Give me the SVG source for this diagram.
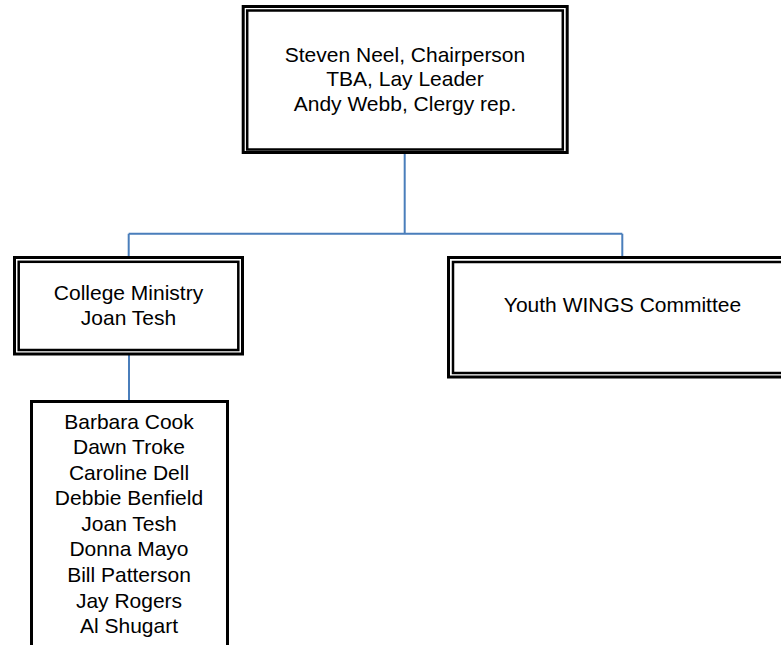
<svg xmlns="http://www.w3.org/2000/svg" width="781" height="645" viewBox="0 0 781 645">
<style>
.bg{fill:#ffffff}
.o{fill:#ffffff;stroke:#000000;stroke-width:3}
.i{fill:none;stroke:#000000;stroke-width:2.5}
.t{font-family:"Liberation Sans",Arial,sans-serif;font-size:21px;fill:#000000;text-anchor:middle}
.c{fill:none;stroke:#4a7ebb;stroke-width:2}
</style>
<rect class="bg" x="0" y="0" width="781" height="645"/>
<g id="connectors">
<path class="c" d="M404.7 152 V233.7 M128.7 233.7 H622.3 M128.7 233.7 V257 M622.3 233.7 V257"/>
<path class="c" d="M129 355 V401"/>
</g>
<g id="chair">
<rect class="o" x="243.2" y="6.5" width="324" height="146"/>
<rect class="i" x="247.2" y="10.5" width="315.6" height="139"/>
<text class="t" x="405" y="61.5">Steven Neel, Chairperson</text>
<text class="t" x="405" y="86">TBA, Lay Leader</text>
<text class="t" x="405" y="110.5">Andy Webb, Clergy rep.</text>
</g>
<g id="college">
<rect class="o" x="14.5" y="257.5" width="228" height="96.5"/>
<rect class="i" x="18.7" y="261.8" width="219.6" height="88.2"/>
<text class="t" x="128.5" y="300">College Ministry</text>
<text class="t" x="128.5" y="324.5">Joan Tesh</text>
</g>
<g id="youth">
<rect class="o" x="448.5" y="257.5" width="348" height="119.5"/>
<rect class="i" x="453" y="262" width="339" height="111"/>
<text class="t" x="622.5" y="312">Youth WINGS Committee</text>
</g>
<g id="members">
<rect class="o" x="31.5" y="401.5" width="196" height="260"/>
<text class="t" x="129" y="428.5">Barbara Cook</text>
<text class="t" x="129" y="454">Dawn Troke</text>
<text class="t" x="129" y="479.5">Caroline Dell</text>
<text class="t" x="129" y="505">Debbie Benfield</text>
<text class="t" x="129" y="530.8">Joan Tesh</text>
<text class="t" x="129" y="556.4">Donna Mayo</text>
<text class="t" x="129" y="582">Bill Patterson</text>
<text class="t" x="129" y="607.6">Jay Rogers</text>
<text class="t" x="129" y="633.2">Al Shugart</text>
</g>
</svg>
